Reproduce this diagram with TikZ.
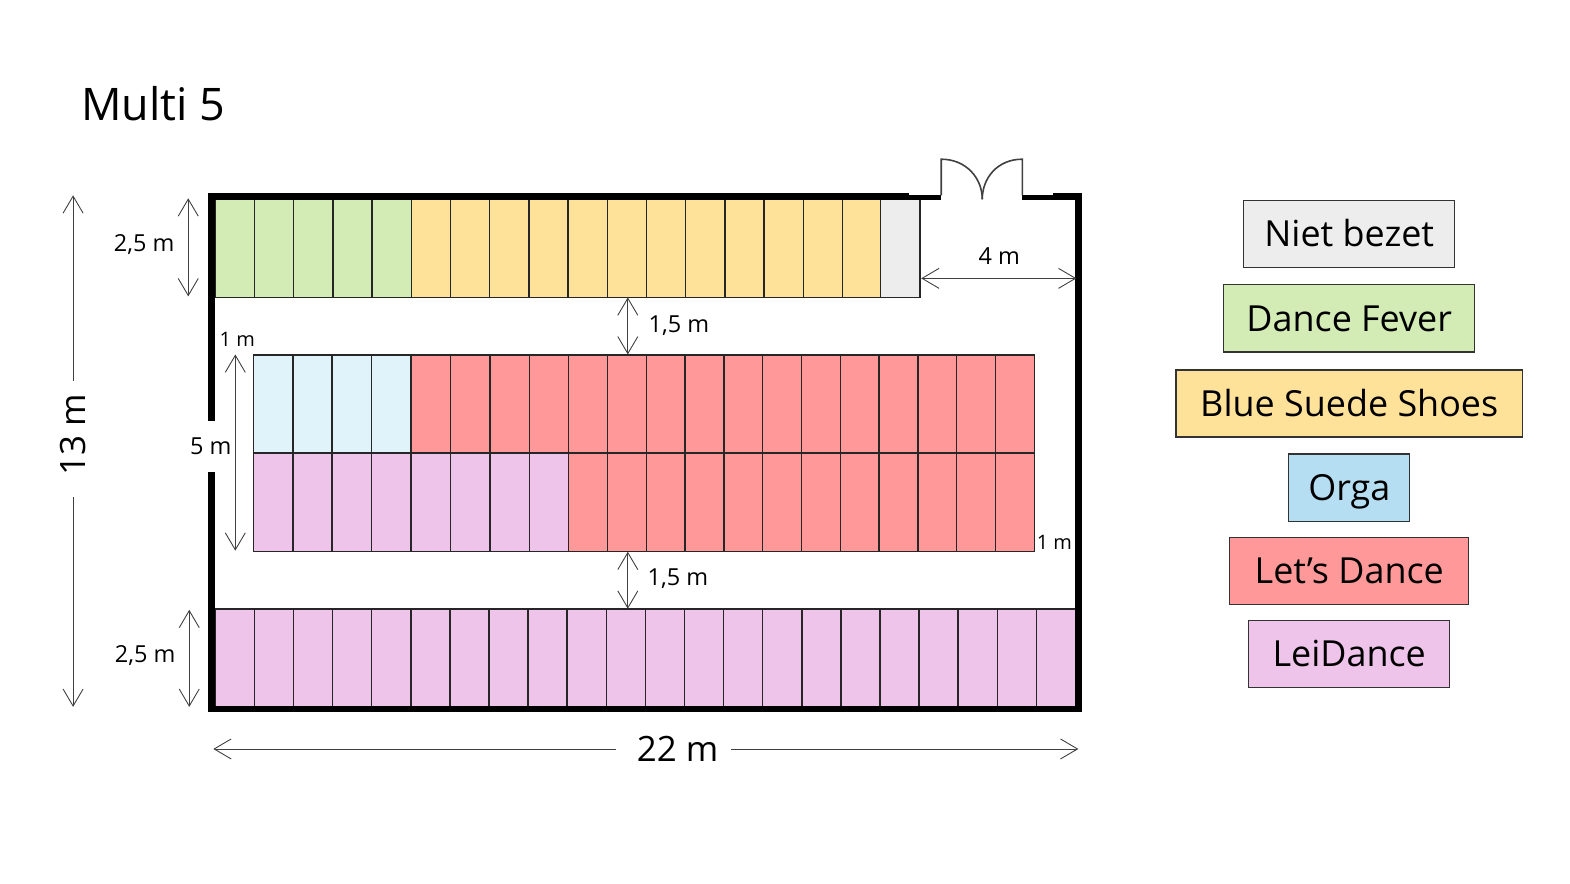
\documentclass[tikz,border=0pt]{standalone}
\usepackage{fontspec}
\setmainfont{Open Sans}
\usetikzlibrary{calc,positioning,arrows.meta}
\definecolor{freecol}{HTML}{EDEDED}
\definecolor{fevercol}{HTML}{D3EBB5}
\definecolor{suedecol}{HTML}{FFE299}
\definecolor{orgacol}{HTML}{B5DEF3}
\definecolor{orgapale}{HTML}{E0F2FA}
\definecolor{letscol}{HTML}{FF9999}
\definecolor{leicol}{HTML}{EEC4EA}
\tikzset{
    cell/.style={draw=black!85, line width=1.5pt, inner sep=0pt, outer sep=0pt, minimum width=39.2bp, minimum height=98bp},
    legend/.style={draw=black!80, line width=1.2pt, minimum height=67bp, inner sep=0pt, outer sep=0pt, text height=26bp, text depth=0bp, font=\fontsize{36}{40}\selectfont},
    dim/.style={draw=black!75, line width=0.9pt, {Straight Barb[length=17bp,width=20bp]}-{Straight Barb[length=17bp,width=20bp]}},
    smalllabel/.style={inner sep=0pt, text height=16.5bp, text depth=0bp, font=\fontsize{23.5}{25}\selectfont},
    tinylabel/.style={inner sep=0pt, text height=14bp, text depth=0bp, font=\fontsize{20}{22}\selectfont},
    biglabel/.style={fill=white, inner xsep=13bp, inner ysep=2bp, text height=25bp, text depth=0bp, font=\fontsize{35}{40}\selectfont},
    wall/.style={fill=black, draw=none},
    door/.style={draw=black!75, line width=1.6pt}
}
\begin{document}
\begin{tikzpicture}[x=1bp, y=-1bp]
    \useasboundingbox (0,0) rectangle (1568,881.9);

    \node [anchor=west, inner sep=0pt, font=\fontsize{45}{50}\selectfont] (title) at (81,104) {Multi 5};

    % top row
    \foreach \i in {1,...,5}
        \node [cell, fill=fevercol] (top\i) at ({215+39.15*(\i-0.5)},248) {};
    \foreach \i in {6,...,17}
        \node [cell, fill=suedecol] (top\i) at ({215+39.15*(\i-0.5)},248) {};
    \node [cell, fill=freecol] (free) at (899,248) {};

    % middle rows
    \foreach \i in {1,...,4}
        \node [cell, minimum width=39.4bp, fill=orgapale] (mida\i) at ({253+39.4*(\i-0.5)},403.5) {};
    \foreach \i in {5,...,8}
        \node [cell, minimum width=39.4bp, fill=letscol] (mida\i) at ({253+39.4*(\i-0.5)},403.5) {};
    \foreach \i in {9,...,20}
        \node [cell, minimum width=38.75bp, fill=letscol] (mida\i) at ({568+38.75*(\i-8.5)},403.5) {};
    \foreach \i in {1,...,8}
        \node [cell, minimum width=39.4bp, fill=leicol] (midb\i) at ({253+39.4*(\i-0.5)},502) {};
    \foreach \i in {9,...,20}
        \node [cell, minimum width=38.75bp, fill=letscol] (midb\i) at ({568+38.75*(\i-8.5)},502) {};

    % bottom row
    \foreach \i in {1,...,22}
        \node [cell, minimum width=39.05bp, fill=leicol] (bot\i) at ({215+39.05*(\i-0.5)},657) {};

    % walls
    \fill [wall] (208,193) rectangle (908,199.5);
    \fill [wall] (908,195) rectangle (940,199.5);
    \fill [wall] (1021,195) rectangle (1052,199.5);
    \fill [wall] (1052,193) rectangle (1081,200);
    \fill [wall] (1074,193) rectangle (1081,711);
    \fill [wall] (208,705) rectangle (1081,711);
    \fill [wall] (208,193) rectangle (215,420);
    \fill [wall] (208,471) rectangle (215,711);

    % door
    \coordinate (doorl) at (940,159);
    \coordinate (doorr) at (1021,159);
    \coordinate (doorm) at (981,199);
    \draw [door] (940,195) -- (doorl) .. controls (965,159) and (981,178) .. (doorm);
    \draw [door] (1021,195) -- (doorr) .. controls (996,159) and (981,178) .. (doorm);

    % dimensions
    \coordinate (hl) at (73,195);
    \coordinate (hr) at (73,706);
    \coordinate (wl) at (213,748);
    \coordinate (wr) at (1077,748);
    \coordinate (doora) at (920,278);
    \coordinate (doorb) at (1075,278);
    \coordinate (gapa) at (627,297);
    \coordinate (gapb) at (627,354);
    \coordinate (gapc) at (627,551);
    \coordinate (gapd) at (627,608);
    \coordinate (topa) at (188,198);
    \coordinate (topb) at (188,296);
    \coordinate (bota) at (189,609);
    \coordinate (botb) at (189,706);
    \coordinate (mida) at (235,354);
    \coordinate (midb) at (235,550);

    \draw [dim] (hl) -- node [biglabel, rotate=90, pos=0.4765] (height) {\hspace*{9bp}13 m} (hr);
    \draw [dim] (wl) -- node [biglabel, pos=0.532] (width) {\hspace*{8bp}22 m} (wr);
    \draw [dim] (doora) -- (doorb);
    \draw [dim] (gapa) -- (gapb);
    \draw [dim] (gapc) -- (gapd);
    \draw [dim] (topa) -- (topb);
    \draw [dim] (bota) -- (botb);
    \draw [dim] (mida) -- (midb);

    \node [smalllabel] (lblfour) at (998,256) {4 m};
    \node [smalllabel] (lblgapa) at (678,323.5) {1,5 m};
    \node [smalllabel] (lblgapb) at (677,576.5) {1,5 m};
    \node [smalllabel] (lbltop) at (144,243) {2,5 m};
    \node [smalllabel] (lblbot) at (145,653.5) {2,5 m};
    \node [smalllabel] (lblmid) at (210.5,446) {5 m};
    \node [tinylabel] (lblonea) at (237,339.5) {1 m};
    \node [tinylabel] (lbloneb) at (1053,541.5) {1 m};

    % Legend
    \node [legend, fill=freecol, minimum width=211bp] (niet) at (1347.5,233.5) {Niet bezet};
    \node [legend, fill=fevercol, minimum width=251bp, below=17.5bp of niet] (fever) {Dance Fever};
    \node [legend, fill=suedecol, minimum width=346bp, below=18bp of fever] (suede) {Blue Suede Shoes};
    \node [legend, fill=orgacol, minimum width=121bp, below=17bp of suede] (orga) {Orga};
    \node [legend, fill=letscol, minimum width=239bp, below=16bp of orga] (lets) {Let’s Dance};
    \node [legend, fill=leicol, minimum width=201bp, below=16bp of lets] (lei) {LeiDance};
\end{tikzpicture}
\end{document}
